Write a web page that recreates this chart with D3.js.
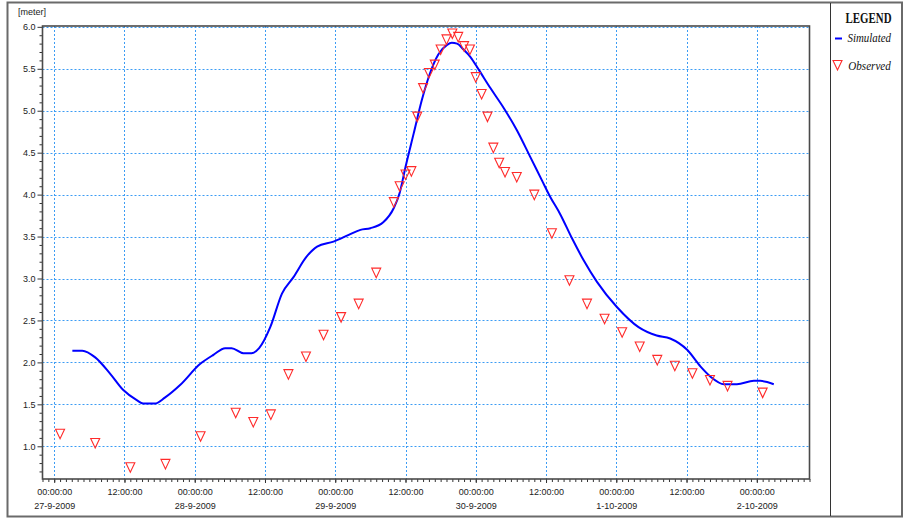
<!DOCTYPE html>
<html>
<head>
<meta charset="utf-8">
<script src="https://cdn.jsdelivr.net/npm/d3@7"></script>
<style>
  html, body { margin: 0; padding: 0; background: #fff; }
  svg { display: block; }
  .lbl { font-family: "Liberation Sans Narrow", "Arial Narrow", "Liberation Sans", Arial, sans-serif; font-size: 9px; fill: #222; }
  .leg { font-family: "Liberation Serif", "Times New Roman", serif; fill: #111; }
</style>
</head>
<body>
<svg id="chart" width="904" height="519"></svg>
<script>
// Water level at the gauge, hours counted from 27-9-2009 00:00
const startDate = new Date(2009, 8, 27, 0, 0, 0);

const obsHours  = [1, 7, 13, 19, 25, 31, 34, 37, 40, 43, 46, 49, 52, 55, 58, 59, 60, 61, 62, 63,
                   64, 65, 66, 67, 68, 69, 70, 71, 72, 73, 74, 75, 76, 77, 79, 82, 85, 88, 91, 94,
                   97, 100, 103, 106, 109, 112, 115, 121];
const obsValues = [1.15, 1.04, 0.75, 0.79, 1.12, 1.40, 1.29, 1.38, 1.86, 2.07, 2.33, 2.54, 2.70, 3.07, 3.91, 4.10, 4.24, 4.28, 4.93, 5.27,
                   5.45, 5.55, 5.73, 5.85, 5.92, 5.88, 5.77, 5.73, 5.40, 5.20, 4.93, 4.56, 4.38, 4.27, 4.21, 4.00, 3.54, 2.98, 2.70, 2.52,
                   2.36, 2.19, 2.03, 1.96, 1.87, 1.79, 1.72, 1.64];

const simHours  = [3.1, 4.8, 7.0, 9.5, 11.8, 14.1, 15.2, 17.2, 18.9, 21.5, 24.9, 27.2, 29.2, 30.3, 32.3, 33.7, 35.0, 36.9, 38.9, 40.9,
                   43.1, 44.9, 47.7, 50.3, 52.3, 54.0, 56.2, 58.0, 59.0, 60.0, 61.4, 62.8, 64.2, 65.6, 67.1, 67.9, 68.8, 69.9, 71.1, 72.5,
                   74.5, 76.8, 79.0, 81.3, 83.3, 84.7, 86.4, 88.5, 90.4, 92.7, 96.1, 99.8, 102.9, 105.2, 108.1, 110.4, 112.1, 114.4, 116.6, 119.5,
                   120.6, 122.9];
const simValues = [2.14, 2.14, 2.06, 1.87, 1.67, 1.55, 1.51, 1.51, 1.58, 1.73, 1.98, 2.09, 2.17, 2.17, 2.11, 2.11, 2.17, 2.42, 2.82, 3.02,
                   3.26, 3.38, 3.44, 3.52, 3.58, 3.60, 3.67, 3.84, 4.02, 4.33, 4.73, 5.13, 5.45, 5.67, 5.785, 5.81, 5.80, 5.73, 5.64, 5.49,
                   5.27, 5.03, 4.77, 4.45, 4.17, 3.975, 3.77, 3.47, 3.22, 2.96, 2.66, 2.42, 2.32, 2.285, 2.15, 1.95, 1.83, 1.74, 1.74, 1.78,
                   1.78, 1.74];

const yMajorTicks = [1.0, 1.5, 2.0, 2.5, 3.0, 3.5, 4.0, 4.5, 5.0, 5.5, 6.0];
const yMinorTicks = [0.7, 0.8, 0.9, 1.1, 1.2, 1.3, 1.4, 1.6, 1.7, 1.8, 1.9, 2.1, 2.2, 2.3, 2.4, 2.6, 2.7, 2.8, 2.9,
                     3.1, 3.2, 3.3, 3.4, 3.6, 3.7, 3.8, 3.9, 4.1, 4.2, 4.3, 4.4, 4.6, 4.7, 4.8, 4.9, 5.1, 5.2, 5.3, 5.4,
                     5.6, 5.7, 5.8, 5.9];
const xMajorHours = [0, 12, 24, 36, 48, 60, 72, 84, 96, 108, 120];
const yDomain = [0.61, 6.01];
const xDomainHours = [-2, 129];
const yUnit = "[meter]";
const legendTitle = "LEGEND";
const seriesNames = ["Simulated", "Observed"];

const toDate = h => new Date(startDate.getTime() + h * 3600 * 1000);

const svg = d3.select("#chart");
const plot = { left: 42.5, right: 809.5, top: 26, bottom: 479 };

const x = d3.scaleTime()
  .domain(xDomainHours.map(toDate))
  .range([plot.left, plot.right]);
const y = d3.scaleLinear()
  .domain(yDomain)
  .range([plot.bottom, plot.top]);

// outer frame and legend divider
svg.append("rect")
  .attr("x", 7.5).attr("y", 2.5).attr("width", 894.5).attr("height", 514)
  .attr("fill", "none").attr("stroke", "#6a6a6a").attr("stroke-width", 2);
svg.append("line")
  .attr("x1", 830.5).attr("x2", 830.5).attr("y1", 3).attr("y2", 516)
  .attr("stroke", "#333").attr("stroke-width", 1);

// grid
const grid = svg.append("g").attr("stroke", "#3c9cf4").attr("stroke-width", 1).attr("stroke-dasharray", "2,2");
grid.selectAll("line.h").data(yMajorTicks).join("line").attr("class", "h")
  .attr("x1", plot.left).attr("x2", plot.right)
  .attr("y1", d => Math.round(y(d)) + 0.5).attr("y2", d => Math.round(y(d)) + 0.5);
grid.selectAll("line.v").data(xMajorHours).join("line").attr("class", "v")
  .attr("x1", d => Math.round(x(toDate(d))) + 0.5).attr("x2", d => Math.round(x(toDate(d))) + 0.5)
  .attr("y1", plot.top).attr("y2", plot.bottom);

// y axis: minor ticks every 0.1, labelled ticks every 0.5
svg.append("g")
  .attr("transform", `translate(${plot.left},0)`)
  .call(d3.axisLeft(y).tickValues(yMinorTicks).tickSize(3).tickFormat(""))
  .call(g => g.select(".domain").remove())
  .call(g => g.selectAll("line").attr("stroke", "#333"));
svg.append("g")
  .attr("class", "lbl")
  .attr("transform", `translate(${plot.left},0)`)
  .call(d3.axisLeft(y).tickValues(yMajorTicks).tickSize(5).tickPadding(2).tickFormat(d3.format(".1f")))
  .call(g => g.select(".domain").remove())
  .call(g => g.selectAll("line").attr("stroke", "#333"))
  .call(g => g.selectAll("text").attr("class", "lbl").attr("fill", null).attr("font-family", null).attr("font-size", null));

// x axis: hourly minor ticks, labelled ticks every 12 hours
const hourTicks = d3.range(xDomainHours[0], xDomainHours[1] + 1).map(toDate);
svg.append("g")
  .attr("transform", `translate(0,${plot.bottom})`)
  .call(d3.axisBottom(x).tickValues(hourTicks).tickSize(3).tickFormat(""))
  .call(g => g.select(".domain").remove())
  .call(g => g.selectAll("line").attr("stroke", "#333"));

const fmtTime = d3.timeFormat("%H:%M:%S");
const fmtDay = d3.timeFormat("%-d-%-m-%Y");
svg.append("g")
  .attr("transform", `translate(0,${plot.bottom})`)
  .call(d3.axisBottom(x).tickValues(xMajorHours.map(toDate)).tickSize(4).tickFormat(""))
  .call(g => g.select(".domain").remove())
  .call(g => g.selectAll("line").attr("stroke", "#333"))
  .call(g => g.selectAll(".tick").each(function(d) {
    const t = d3.select(this).append("text").attr("class", "lbl").attr("text-anchor", "middle");
    t.append("tspan").attr("x", 0).attr("y", 16).text(fmtTime(d));
    if (d.getHours() === 0) t.append("tspan").attr("x", 0).attr("y", 30).text(fmtDay(d));
  }));

// plot frame
svg.append("rect")
  .attr("x", plot.left).attr("y", plot.top)
  .attr("width", plot.right - plot.left).attr("height", plot.bottom - plot.top)
  .attr("fill", "none").attr("stroke", "#4a4a4a").attr("stroke-width", 1.6);

// unit label
svg.append("text").attr("class", "lbl").attr("x", 18).attr("y", 15).text(yUnit);

// simulated series
const sim = simHours.map((h, i) => ({ t: toDate(h), v: simValues[i] }));
svg.append("path")
  .datum(sim)
  .attr("fill", "none")
  .attr("stroke", "#0000ff")
  .attr("stroke-width", 2)
  .attr("stroke-linejoin", "round")
  .attr("d", d3.line().x(d => x(d.t)).y(d => y(d.v)).curve(d3.curveMonotoneX));

// observed series: open downward triangles
const tri = "M-4.5,-4.5L4.5,-4.5L0,5Z";
const obs = obsHours.map((h, i) => ({ t: toDate(h), v: obsValues[i] }));
svg.append("g").selectAll("path").data(obs).join("path")
  .attr("transform", d => `translate(${x(d.t)},${y(d.v)})`)
  .attr("d", tri)
  .attr("fill", "none")
  .attr("stroke", "#ff2a2a")
  .attr("stroke-width", 1.1);

// legend
svg.append("text").attr("class", "leg")
  .attr("x", 845.5).attr("y", 22.5)
  .attr("font-size", 14).attr("font-weight", "bold")
  .attr("textLength", 46).attr("lengthAdjust", "spacingAndGlyphs")
  .text(legendTitle);
svg.append("line")
  .attr("x1", 835).attr("x2", 842).attr("y1", 38.5).attr("y2", 38.5)
  .attr("stroke", "#0000ff").attr("stroke-width", 2);
svg.append("text").attr("class", "leg")
  .attr("x", 847.5).attr("y", 41.5)
  .attr("font-size", 13).attr("font-style", "italic")
  .attr("textLength", 43.5).attr("lengthAdjust", "spacingAndGlyphs")
  .text(seriesNames[0]);
svg.append("path")
  .attr("transform", "translate(837.5,65)")
  .attr("d", tri)
  .attr("fill", "none").attr("stroke", "#ff2a2a").attr("stroke-width", 1.1);
svg.append("text").attr("class", "leg")
  .attr("x", 848.3).attr("y", 69.5)
  .attr("font-size", 13).attr("font-style", "italic")
  .attr("textLength", 42.5).attr("lengthAdjust", "spacingAndGlyphs")
  .text(seriesNames[1]);
</script>
</body>
</html>
